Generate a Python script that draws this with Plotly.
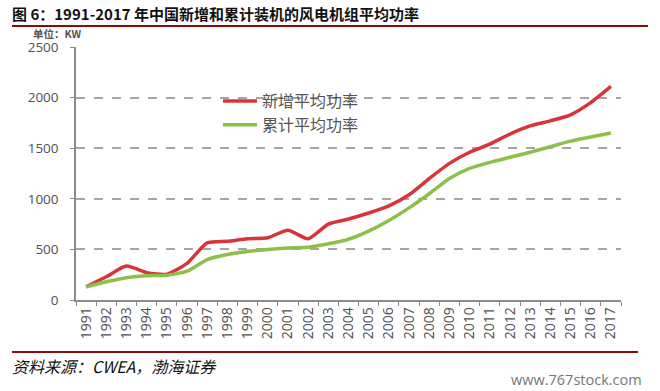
import plotly.graph_objects as go

years = [str(y) for y in range(1991, 2018)]
new_avg = [130, 230, 335, 270, 255, 362, 565, 580, 605, 615, 690, 605, 750,
           800, 860, 930, 1040, 1200, 1350, 1460, 1540, 1640, 1720, 1770, 1830, 1950, 2110]
cum_avg = [130, 180, 220, 240, 245, 285, 400, 450, 480, 500, 515, 522, 555,
           600, 680, 785, 910, 1050, 1200, 1300, 1360, 1410, 1460, 1515, 1570, 1610, 1650]
series_names = ["新增平均功率", "累计平均功率"]
y_ticks = [0, 500, 1000, 1500, 2000, 2500]

W, H = 660, 391
L, R, T, B = 76, 39, 47, 91


def px(x):
    return x / W


def py(y):
    return 1 - y / H


fig = go.Figure()
fig.add_trace(go.Scatter(x=years, y=new_avg, name=series_names[0], mode="lines",
                         line=dict(color="#D9343A", width=3.5, shape="spline", smoothing=0.6)))
fig.add_trace(go.Scatter(x=years, y=cum_avg, name=series_names[1], mode="lines",
                         line=dict(color="#8DC04A", width=3.5, shape="spline", smoothing=0.6)))
# empty trace to host the full-page overlay axes used for decorative rules
fig.add_trace(go.Scatter(x=[None], y=[None], xaxis="x2", yaxis="y2", showlegend=False,
                         hoverinfo="skip", mode="lines"))

fig.update_layout(
    width=W, height=H,
    margin=dict(l=0, r=0, t=0, b=0, autoexpand=False),
    paper_bgcolor="white", plot_bgcolor="rgba(0,0,0,0)",
    showlegend=True,
    legend=dict(x=px(218), y=py(84), xanchor="left", yanchor="top",
                bgcolor="rgba(0,0,0,0)", font=dict(family="Noto Sans CJK SC", size=16, color="#555555"),
                tracegroupgap=0, itemwidth=34),
    xaxis=dict(type="category", range=[-0.5, 26.5], domain=[L / W, (W - R) / W],
               showline=True, linecolor="#8c8c8c", linewidth=1.5,
               ticks="outside", tickson="boundaries", ticklen=4, tickcolor="#8c8c8c",
               tickangle=-90, tickfont=dict(family="Open Sans", size=14, color="#505050"),
               showgrid=False, zeroline=False, automargin=False),
    yaxis=dict(range=[0, 2500], tickvals=y_ticks, domain=[B / H, (H - T) / H],
               showline=True, linecolor="#8c8c8c", linewidth=1.5,
               ticks="outside", ticklen=4, tickcolor="#8c8c8c", ticklabelstandoff=9,
               tickfont=dict(family="Open Sans", size=13.5, color="#505050"),
               showgrid=True, gridcolor="#a6a6a6", griddash="dash", gridwidth=1.5, zeroline=False,
               automargin=False),
    xaxis2=dict(domain=[0, 1], range=[0, W], anchor="y2", visible=False, fixedrange=True),
    yaxis2=dict(domain=[0, 1], range=[H, 0], anchor="x2", visible=False, fixedrange=True),
    font=dict(family="Noto Sans CJK SC"),
)

fig.add_annotation(x=px(10), y=py(13), xref="paper", yref="paper", xanchor="left", yanchor="middle",
                   text="<b>图 6：1991-2017 年中国新增和累计装机的风电机组平均功率</b>", showarrow=False,
                   font=dict(family="Noto Sans CJK SC", size=15, color="#111111"))
fig.add_annotation(x=px(31), y=py(33), xref="paper", yref="paper", xanchor="left", yanchor="middle",
                   text="<b>单位：KW</b>", showarrow=False,
                   font=dict(family="Noto Sans CJK SC", size=10.5, color="#555555"))
fig.add_annotation(x=px(10), y=py(366), xref="paper", yref="paper", xanchor="left", yanchor="middle",
                   text="<i>资料来源：CWEA，渤海证券</i>", showarrow=False,
                   font=dict(family="Noto Sans CJK SC", size=16, color="#111111"))
fig.add_annotation(x=px(644), y=py(379), xref="paper", yref="paper", xanchor="right", yanchor="middle",
                   text="www.767stock.com", showarrow=False,
                   font=dict(family="Open Sans", size=14.5, color="#777777"))

for yy, x0, x1 in [(26, 12, 648), (352, 12, 638)]:
    fig.add_shape(type="line", xref="x2", yref="y2", x0=x0, x1=x1, y0=yy, y1=yy,
                  line=dict(color="#8B0A0A", width=2))

fig.write_html("out.html", config={"displayModeBar": False},
               post_script="document.body.style.margin='0';document.body.style.overflow='hidden';")
